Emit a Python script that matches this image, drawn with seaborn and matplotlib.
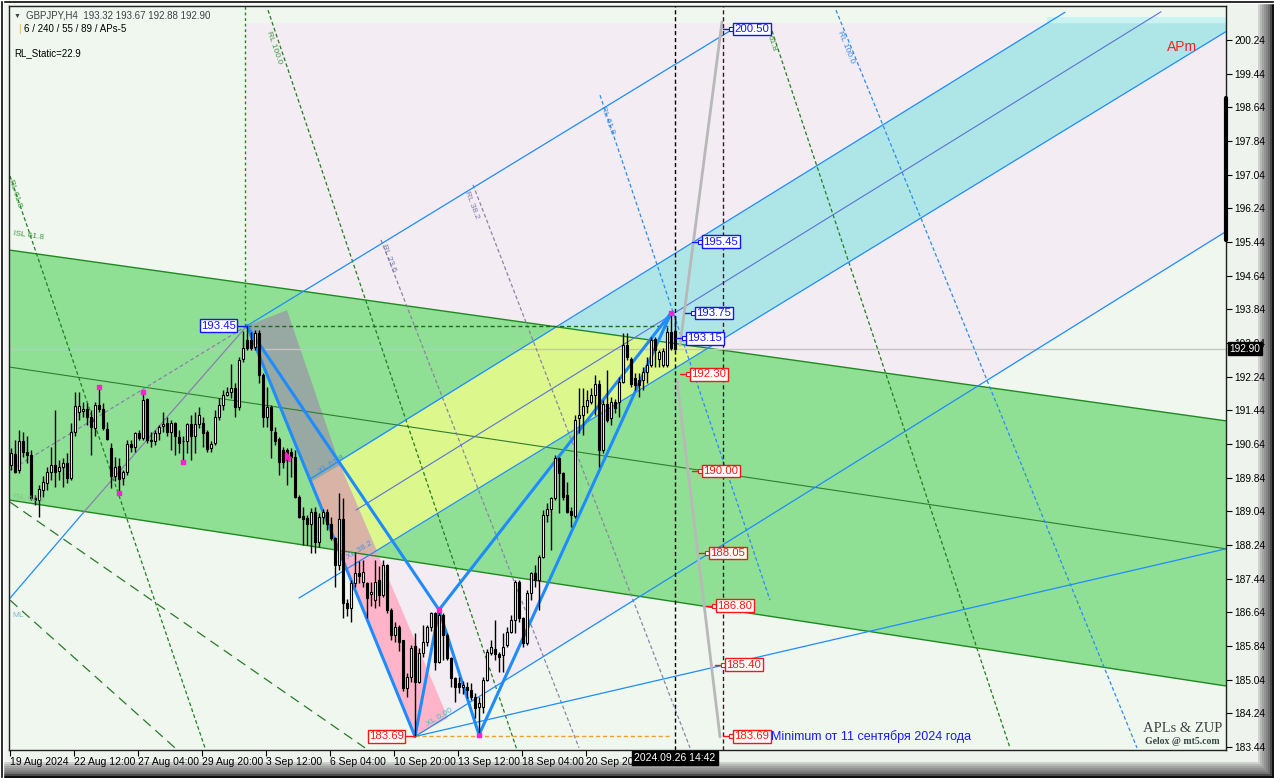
import numpy as np
import pandas as pd
import matplotlib
matplotlib.use('Agg')
import matplotlib.pyplot as plt
import seaborn as sns
from matplotlib.patches import Polygon, Rectangle

# GBPJPY H4 candles (bar index = position on the chart)
opens = [190.14, 190.40, 190.02, 190.70, 190.46, 190.38, 189.35, 189.30, 189.55, 189.71,
         189.98, 190.14, 190.00, 190.09, 190.20, 189.84, 190.93, 191.41, 191.42, 191.47,
         191.29, 191.01, 191.57, 191.47, 190.99, 190.54, 189.87, 190.12, 189.83, 189.98,
         190.64, 190.56, 190.90, 190.79, 191.70, 190.74, 190.71, 190.90, 191.07, 191.13,
         190.93, 191.13, 190.80, 190.72, 190.70, 191.12, 190.82, 191.12, 191.13, 190.93,
         190.54, 190.66, 191.28, 191.57, 191.81, 191.87, 191.96, 191.51, 192.66, 193.10,
         193.10, 192.95, 193.27, 192.28, 191.29, 191.51, 190.93, 190.75, 190.50, 190.50,
         190.45, 190.34, 189.39, 188.93, 188.87, 188.74, 189.03, 188.30, 188.91, 189.03,
         188.74, 188.40, 187.77, 188.85, 186.86, 186.74, 187.33, 187.57, 187.37, 187.33,
         187.08, 186.93, 187.41, 187.05, 187.77, 186.70, 186.10, 186.30, 185.98, 184.84,
         185.11, 185.83, 184.99, 185.67, 185.94, 186.30, 186.62, 185.47, 186.58, 186.10,
         185.55, 185.07, 184.95, 184.87, 184.87, 184.80, 184.64, 184.40, 184.40, 185.03,
         185.68, 185.78, 185.66, 185.63, 185.86, 186.18, 186.46, 187.37, 186.50, 185.90,
         187.09, 187.57, 187.41, 187.96, 188.95, 189.09, 189.35, 190.30, 189.94, 189.43,
         189.05, 188.93, 191.25, 191.33, 191.54, 191.64, 191.80, 192.06, 190.50, 191.59,
         191.25, 191.64, 191.64, 192.12, 192.99, 192.67, 192.20, 192.16, 192.16, 192.36,
         192.52, 193.13, 192.65, 192.52, 192.52, 193.31, 193.32]
highs = [190.54, 190.74, 190.97, 190.93, 190.82, 190.50, 189.43, 189.67, 189.87, 190.10,
         190.58, 191.45, 190.26, 190.30, 190.42, 191.13, 191.88, 191.88, 191.65, 191.61,
         191.45, 191.65, 192.00, 191.61, 191.17, 190.66, 190.34, 190.30, 190.02, 190.74,
         190.74, 190.93, 190.97, 191.88, 191.73, 190.93, 190.97, 191.09, 191.41, 191.29,
         191.21, 191.17, 190.97, 190.82, 191.13, 191.33, 191.41, 191.53, 191.29, 190.97,
         190.70, 191.45, 191.73, 191.92, 192.00, 192.55, 192.08, 192.70, 193.33, 193.45,
         193.30, 193.35, 193.35, 192.32, 192.00, 191.57, 191.05, 190.81, 190.58, 190.54,
         190.54, 190.50, 189.43, 189.15, 188.95, 189.11, 189.15, 189.00, 189.10, 189.09,
         188.91, 188.44, 189.47, 189.35, 186.95, 187.40, 188.08, 187.86, 187.89, 187.37,
         187.37, 187.89, 187.73, 187.89, 187.79, 186.74, 186.42, 186.34, 185.98, 185.19,
         185.86, 186.14, 185.79, 186.34, 186.34, 186.66, 186.66, 186.70, 186.62, 186.14,
         185.59, 185.11, 185.11, 185.00, 184.99, 184.95, 184.72, 184.64, 185.11, 185.78,
         185.98, 186.46, 185.70, 186.14, 186.30, 186.58, 187.41, 187.41, 186.54, 187.17,
         187.61, 187.76, 188.00, 189.07, 189.23, 189.39, 190.38, 190.34, 189.98, 189.74,
         189.15, 191.33, 191.96, 191.96, 191.92, 191.96, 192.28, 192.16, 191.68, 192.40,
         191.76, 191.72, 192.24, 193.27, 193.27, 192.71, 192.32, 192.32, 192.48, 192.71,
         193.19, 193.19, 192.87, 192.91, 193.43, 193.75, 193.67]
lows = [190.02, 189.94, 189.94, 190.34, 190.18, 189.31, 189.19, 188.91, 189.39, 189.55,
        189.79, 189.63, 189.79, 189.63, 189.71, 189.79, 190.82, 191.21, 191.29, 191.09,
        190.38, 190.82, 191.41, 190.97, 190.74, 189.59, 189.75, 189.47, 189.67, 189.90,
        190.46, 190.46, 190.74, 190.74, 190.66, 190.58, 190.62, 190.74, 190.93, 190.82,
        190.50, 190.38, 190.42, 190.22, 190.42, 190.26, 190.42, 191.01, 190.58, 190.46,
        190.46, 190.62, 191.21, 191.45, 191.77, 191.73, 191.29, 191.45, 192.60, 192.87,
        192.87, 192.87, 192.08, 191.05, 191.05, 190.30, 190.62, 189.90, 190.06, 189.67,
        189.86, 189.35, 188.87, 188.24, 188.24, 188.04, 188.04, 188.20, 188.75, 188.60,
        188.35, 187.25, 187.65, 186.50, 186.55, 186.42, 187.25, 187.33, 187.25, 186.50,
        186.78, 186.74, 186.78, 187.00, 186.62, 185.98, 185.94, 185.71, 184.76, 184.64,
        184.99, 183.69, 184.95, 185.59, 185.83, 186.20, 185.27, 185.43, 185.51, 185.51,
        184.87, 184.52, 184.72, 184.70, 184.60, 184.56, 184.12, 183.73, 184.24, 185.00,
        185.63, 185.51, 185.23, 185.23, 185.82, 186.14, 186.14, 186.42, 185.82, 185.86,
        186.93, 187.25, 186.69, 187.92, 188.79, 188.12, 189.31, 188.99, 189.31, 188.99,
        188.67, 188.87, 190.89, 190.85, 191.37, 191.60, 191.33, 190.10, 190.42, 191.17,
        191.09, 191.37, 191.29, 192.08, 192.63, 192.00, 191.92, 191.76, 191.92, 192.08,
        192.48, 192.48, 192.48, 192.48, 192.48, 192.87, 192.88]
closes = [190.42, 189.98, 190.70, 190.44, 190.38, 189.35, 189.30, 189.56, 189.73, 189.98,
          190.14, 189.98, 190.09, 190.18, 189.83, 190.92, 191.54, 191.54, 191.47, 191.29,
          191.04, 191.57, 191.47, 191.01, 190.75, 189.87, 190.10, 189.80, 189.98, 190.64,
          190.56, 190.90, 190.78, 191.69, 190.74, 190.70, 190.90, 191.04, 191.12, 190.93,
          191.13, 190.82, 190.67, 190.70, 191.12, 190.82, 191.12, 191.33, 190.91, 190.51,
          190.64, 191.28, 191.57, 191.81, 191.87, 191.96, 191.51, 192.64, 192.91, 192.91,
          192.91, 193.27, 192.28, 191.29, 191.51, 190.97, 190.72, 190.22, 190.22, 190.26,
          190.34, 189.39, 188.91, 188.85, 188.74, 189.03, 188.30, 188.91, 189.03, 188.74,
          188.40, 187.77, 188.85, 186.86, 186.74, 187.33, 187.57, 187.50, 187.61, 186.97,
          187.13, 187.37, 187.05, 187.77, 186.70, 186.10, 186.30, 185.94, 184.84, 185.11,
          185.79, 184.99, 185.67, 185.94, 186.30, 186.62, 185.47, 186.58, 186.10, 185.55,
          185.07, 184.87, 184.87, 184.91, 184.80, 184.64, 184.36, 184.48, 185.03, 185.70,
          185.82, 185.66, 185.58, 185.82, 186.18, 186.46, 187.37, 186.50, 185.90, 187.09,
          187.57, 187.41, 187.96, 188.95, 189.09, 189.35, 190.30, 189.94, 189.39, 189.03,
          188.95, 191.22, 191.33, 191.54, 191.68, 191.80, 192.06, 190.50, 191.59, 191.21,
          191.64, 191.49, 192.12, 192.99, 192.70, 192.06, 192.04, 192.04, 192.36, 192.52,
          193.11, 192.87, 192.83, 192.86, 193.31, 192.91, 192.90]

time_labels = ['19 Aug 2024', '22 Aug 12:00', '27 Aug 04:00', '29 Aug 20:00', '3 Sep 12:00',
               '6 Sep 04:00', '10 Sep 20:00', '13 Sep 12:00', '18 Sep 04:00', '20 Sep 20:00']
time_label_bars = [-0.25, 15.75, 31.75, 47.75, 63.75, 79.75, 95.75, 111.75, 127.75, 143.75]
price_ticks = [183.44, 184.24, 185.04, 185.84, 186.64, 187.44, 188.24, 189.04, 189.84, 190.64, 191.44,
               192.24, 193.04, 193.84, 194.64, 195.44, 196.24, 197.04, 197.84, 198.64, 199.44, 200.24]

# ZUP pattern X-A-B-C-D
zup_bars = [59, 101, 107, 117, 165]
zup_prices = [193.45, 183.69, 186.70, 183.73, 193.75]
zup_segments = [(0, 1), (0, 2), (1, 2), (2, 3), (2, 4), (3, 4)]

# regression channel (green)
chan_bars = [-0.5, 303.75]
chan_upper = [195.25, 191.19]
chan_mid = [192.47, 188.15]
chan_lower = [189.31, 184.89]

# pitchfork tines
tine_u_bars, tine_u_prices = [75.0, 263.5], [189.82, 200.90]
tine_m_bars, tine_m_prices = [86.25, 287.5], [189.07, 200.91]
tine_l_bars, tine_l_prices = [72.0, 303.75], [186.98, 200.44]
tine_r_bars, tine_r_prices = [101, 303.75], [183.69, 195.69]
tine_x_bars, tine_x_prices = [59, 180.5], [193.45, 200.50]
ray_a_bars, ray_a_prices = [101, 303.75], [183.69, 188.15]
median_bars, median_prices = [-0.5, 59], [190.0, 193.45]
steep_bars, steep_prices = [-0.5, 18, 59], [186.95, 189.0, 193.45]

# filled zones
band_bars = [82.0, 258.95, 303.75, 303.75, 91.5]
band_prices = [190.20, 200.64, 200.64, 200.44, 188.10]
grey_bars = [59, 69, 82.25, 75]
grey_prices = [193.45, 193.82, 190.14, 189.74]
pink_bars = [75, 82.25, 109.25, 101]
pink_prices = [189.74, 190.14, 184.13, 183.69]
zone_bars = [58.5, 303.75, 303.75, 101, 59]
zone_prices = [200.64, 200.64, 195.69, 183.69, 193.45]

# steep fib time lines
green_fib = [([-0.75, 48.5], [197.15, 183.42]), ([64.25, 126.5], [200.95, 183.37]),
             ([189.75, 249.75], [200.60, 183.42])]
blue_fib = [([206.25, 281.5], [200.95, 183.42]), ([147.25, 189.75], [198.93, 186.93])]
grey_fib = [([115.5, 169.75], [196.80, 183.42]), ([92.5, 142.0], [195.49, 183.42])]
long_dash = [([-0.25, 88.5], [189.26, 183.42]), ([-0.25, 41.0], [186.93, 183.42])]
label_path_up = ([177.75, 167.25], [200.67, 192.99])
label_path_down = ([166.5, 177.25], [192.16, 183.68])

# price tags
tag_prices = [200.50, 195.45, 193.75, 193.15, 192.30, 190.00, 188.05, 186.80, 185.40, 183.69]
tag_bars = [180.5, 172.75, 171.0, 168.75, 169.75, 172.75, 174.5, 176.25, 178.5, 180.5]
tag_colors = ['#1414ff'] * 4 + ['#ff1414'] * 6
fractal_bars = [22, 33, 43, 27, 107, 117, 165]
fractal_prices = [192.00, 191.88, 190.22, 189.47, 186.70, 183.73, 193.75]

last_price = 192.90
last_bar = 166

sns.set_theme(style='white')
plt.rcParams['font.family'] = ['Liberation Sans', 'DejaVu Sans']

W, H = 1274, 778
fig = plt.figure(figsize=(W / 100, H / 100), dpi=100)
fig.patch.set_facecolor('#eef3ee')
ax = fig.add_axes([9 / W, 1 - 750 / H, 1217 / W, 744 / H])
ax.set_facecolor('#eff7ef')

# frame bevel
for k, c in enumerate(['#d0d0d0', '#b8b8b8', '#a4a4a4', '#949494', '#848484', '#707070', '#4a4a4a', '#101010']):
    fig.add_artist(Rectangle(((1258 + 2 * k) / W, 0), 2 / W, 1, transform=fig.transFigure,
                             facecolor=c, edgecolor='none', zorder=-5))
    fig.add_artist(Rectangle((0, (14 - 2 * k) / H), (1258 + 2 * k) / W, 2 / H, transform=fig.transFigure,
                             facecolor=c, edgecolor='none', zorder=-5))
fig.add_artist(Rectangle((0, 1 - 3 / H), 1, 3 / H, transform=fig.transFigure, facecolor='black', zorder=-4))
fig.add_artist(Rectangle((0, 0), 3 / W, 1, transform=fig.transFigure, facecolor='black', zorder=-4))

# zones
ax.add_patch(Polygon(np.column_stack([zone_bars, zone_prices]), closed=True, fc='#f3ecf2', ec='none', zorder=0.5))
green = Polygon(np.column_stack([chan_bars + chan_bars[::-1], chan_upper + chan_lower[::-1]]),
                closed=True, fc='#8fe094', ec='none', zorder=1)
ax.add_patch(green)
ax.add_patch(Rectangle((258.95, 200.64), 44.8, 0.15, fc='#c9f3f3', ec='none', zorder=1))
ax.add_patch(Polygon(np.column_stack([band_bars, band_prices]), closed=True, fc='#aee6e8', ec='none', zorder=1.2))
yel = Polygon(np.column_stack([band_bars, band_prices]), closed=True, fc='#dcf78c', ec='none', zorder=1.3)
ax.add_patch(yel)
yel.set_clip_path(green)
ax.add_patch(Polygon(np.column_stack([pink_bars, pink_prices]), closed=True, fc='#ffb4ca', ec='none', zorder=1.4))
rose = Polygon(np.column_stack([pink_bars, pink_prices]), closed=True, fc='#d9b3a6', ec='none', zorder=1.5)
ax.add_patch(rose)
rose.set_clip_path(green)
ax.add_patch(Polygon(np.column_stack([grey_bars, grey_prices]), closed=True, fc='#98a8a2', ec='none', zorder=1.5))

# channel lines
ax.plot(chan_bars, chan_upper, color='#1f8a1f', lw=1, zorder=2)
ax.plot(chan_bars, chan_mid, color='#2f7f2f', lw=0.8, zorder=2)
ax.plot(chan_bars, chan_lower, color='#1f8a1f', lw=1, zorder=2)

# pitchfork and rays
for bx, py in [(tine_u_bars, tine_u_prices), (tine_l_bars, tine_l_prices), (tine_r_bars, tine_r_prices),
               (tine_x_bars, tine_x_prices), (ray_a_bars, ray_a_prices)]:
    ax.plot(bx, py, color='#1e8cff', lw=0.9, zorder=2.5)
ax.plot(tine_m_bars, tine_m_prices, color='#5a72d8', lw=0.8, zorder=2.5)
ax.plot(median_bars, median_prices, color='#8a80b0', lw=0.9, ls=(0, (3, 2)), zorder=2.5)
ax.plot(steep_bars[:2], steep_prices[:2], color='#1e8cff', lw=0.9, zorder=2.5)
ax.plot(steep_bars[1:], steep_prices[1:], color='#8a80b0', lw=0.9, zorder=2.5)

for bx, py in green_fib:
    ax.plot(bx, py, color='#1f7f1f', lw=0.9, ls=(0, (3, 2)), zorder=2.4)
for bx, py in blue_fib:
    ax.plot(bx, py, color='#2a8cf0', lw=0.9, ls=(0, (3, 2)), zorder=2.4)
for bx, py in grey_fib:
    ax.plot(bx, py, color='#8a84a8', lw=0.9, ls=(0, (3, 2)), zorder=2.4)
for bx, py in long_dash:
    ax.plot(bx, py, color='#2a7a2a', lw=0.9, ls=(0, (8, 5)), zorder=2.4)

ax.plot(*label_path_up, color='#b8b8b8', lw=2, zorder=2.6)
ax.plot(*label_path_down, color='#b8b8b8', lw=2, zorder=2.6)

# reference lines
ax.axhline(last_price, color='#c4c4c4', lw=1, zorder=2.2)
ax.plot([zup_bars[0], zup_bars[4]], [zup_prices[0]] * 2, color='#1f6a1f', lw=1, ls=(0, (3, 2)), zorder=2.7)
ax.plot([zup_bars[1], zup_bars[4]], [zup_prices[1]] * 2, color='#f0a030', lw=1, ls=(0, (3, 2)), zorder=2.7)
ax.plot([zup_bars[0] - 0.5] * 2, [zup_prices[0], 201.1], color='#1f8a1f', lw=1, ls=(0, (2, 2)), zorder=2.7)
ax.axvline(last_bar, color='black', lw=1, ls=(0, (3, 2)), zorder=2.8)
ax.axvline(177.9, color='#3a1a2a', lw=1, ls=(0, (3, 2)), zorder=2.8)

# candles
o, h, l, c = map(np.array, (opens, highs, lows, closes))
bars = np.arange(len(c))
ax.vlines(bars, l, h, color='black', lw=1, zorder=4)
body_col = np.where(c < o, 'black', 'white')
ax.bar(bars, np.maximum(np.abs(c - o), 0.015), bottom=np.minimum(o, c), width=0.62,
       color=body_col, edgecolor='black', linewidth=0.8, zorder=4.1)

# ZUP zigzag via seaborn
rows = []
for k, (i, j) in enumerate(zup_segments):
    rows.append({'bar': zup_bars[i], 'price': zup_prices[i], 'seg': k})
    rows.append({'bar': zup_bars[j], 'price': zup_prices[j], 'seg': k})
zz = pd.DataFrame(rows)
sns.lineplot(data=zz, x='bar', y='price', units='seg', estimator=None, sort=False,
             color='#1e8cff', lw=2.2, ax=ax, legend=False, zorder=3.5)
ax.scatter(fractal_bars, fractal_prices, marker='s', s=6, color='#ff20d0', zorder=5)

cursor = [(0, 0), (0, -1.2), (0.3, -0.9), (0.55, -1.35), (0.7, -1.28), (0.47, -0.82), (0.85, -0.82), (0, 0)]
ax.scatter([68.4], [190.45], marker=cursor, s=170, color='#ff20c0', zorder=5)

# price tags
for tb, tp, tc in zip(tag_bars, tag_prices, tag_colors):
    ax.plot([tb - 2.6, tb - 0.5], [tp, tp], color=tc, lw=1, zorder=6)
    ax.plot([tb - 0.5], [tp], marker='s', ms=2.6, mfc='white', mec=tc, mew=0.8, zorder=6)
    ax.text(tb + 0.35, tp, f'{tp:.2f}', color=tc, fontsize=8.2, ha='left', va='center', zorder=7,
            bbox=dict(boxstyle='square,pad=0.12', fc='white', ec=tc, lw=1))
for tb, tp, tc, anchor in [(56.6, zup_prices[0], '#1414ff', zup_bars[0]), (98.6, zup_prices[1], '#ff1414', zup_bars[1])]:
    ax.plot([tb, anchor], [tp, tp], color=tc, lw=1, zorder=6)
    ax.text(tb - 0.35, tp, f'{tp:.2f}', color=tc, fontsize=8.2, ha='right', va='center', zorder=7,
            bbox=dict(boxstyle='square,pad=0.12', fc='white', ec=tc, lw=1))
ax.text(190.0, 183.69, 'Minimum от 11 сентября 2024 года', color='#1a1aff', fontsize=9, va='center', zorder=7)
ax.text(289, 200.07, 'APm', color='#ff2020', fontsize=10, va='center', zorder=7)

# small line captions
captions = [(65.25, 200.48, 'RL 100.0', '#3c9a3c', -71), (0.75, 196.96, 'RL 61.8', '#3c9a3c', -72),
            (0.75, 195.73, 'ISL 61.8', '#3c9a3c', -8), (0.75, 189.48, 'ISL 61.8', '#88bc88', -8),
            (114.75, 196.68, 'RL 38.2', '#7a7aa8', -69), (94.0, 195.42, 'RL 23.6', '#7a7aa8', -69),
            (148.75, 198.70, 'RL 61.8', '#3a8ae8', -70), (208.0, 200.48, 'RL 100.0', '#3a8ae8', -68),
            (190.25, 200.36, '61.8', '#3c9a3c', -72), (0.25, 186.65, 'ML', '#7ab8d8', 0),
            (76.5, 190.05, 'XL 61.8', '#4a90e0', 31), (83.5, 188.0, 'XL 38.2', '#4a90e0', 31),
            (103.5, 184.05, 'XL 0.00', '#40c0c0', 31)]
for cb, cp, ct, cc, rot in captions:
    ax.text(cb, cp, ct, color=cc, fontsize=6, rotation=rot, ha='left', va='top',
            rotation_mode='anchor', zorder=6)

# header
fig.text(14 / W, 1 - 16 / H, '▼', fontsize=5, color='#404048', va='center')
fig.text(26 / W, 1 - 16 / H, 'GBPJPY,H4  193.32 193.67 192.88 192.90', fontsize=7, color='#404048', va='center')
fig.text(18 / W, 1 - 29 / H, '|', fontsize=7, color='#e0b030', va='center')
fig.text(24 / W, 1 - 29 / H, '6 / 240 / 55 / 89 / APs-5', fontsize=7, color='black', va='center')
fig.text(14 / W, 1 - 53 / H, 'RL_Static=22.9', fontsize=7, color='black', va='center')
fig.text(1183 / W, 1 - 728 / H, 'APLs & ZUP', fontsize=10.5, family='Liberation Serif',
         color='#3a4646', ha='center', va='center')
fig.text(1182 / W, 1 - 741 / H, 'Gelox @ mt5.com', fontsize=7, family='Liberation Serif',
         weight='bold', color='#3a4646', ha='center', va='center')

# axes
ax.set_xlim(-0.5, 303.75)
ax.set_ylim(183.369, 201.048)
ax.set_xlabel('')
ax.set_ylabel('')
ax.yaxis.tick_right()
ax.set_yticks(price_ticks, [f'{p:.2f}' for p in price_ticks])
ax.set_xticks(time_label_bars, time_labels, ha='left')
ax.tick_params(axis='y', right=True, left=False, length=4, width=0.8, color='black',
               labelsize=7.3, pad=2, labelcolor='black')
ax.tick_params(axis='x', bottom=True, length=4, width=0.8, color='black', labelsize=7.5, pad=1,
               labelcolor='black')
for s in ax.spines.values():
    s.set_color('#202020')
    s.set_linewidth(1)
ax.plot([303.75, 303.75], [195.49, 198.86], color='black', lw=3, clip_on=False, zorder=8)
ax.text(1.003, last_price, f'{last_price:.2f}', transform=ax.get_yaxis_transform(), color='white',
        fontsize=7.3, va='center', ha='left', zorder=9,
        bbox=dict(boxstyle='square,pad=0.15', fc='black', ec='black'))
ax.text(last_bar, -0.004, '2024.09.26 14:42', transform=ax.get_xaxis_transform(), color='white',
        fontsize=7.5, va='top', ha='center', zorder=9, clip_on=False,
        bbox=dict(boxstyle='square,pad=0.2', fc='black', ec='black'))

fig.savefig('out.png', dpi=100)
